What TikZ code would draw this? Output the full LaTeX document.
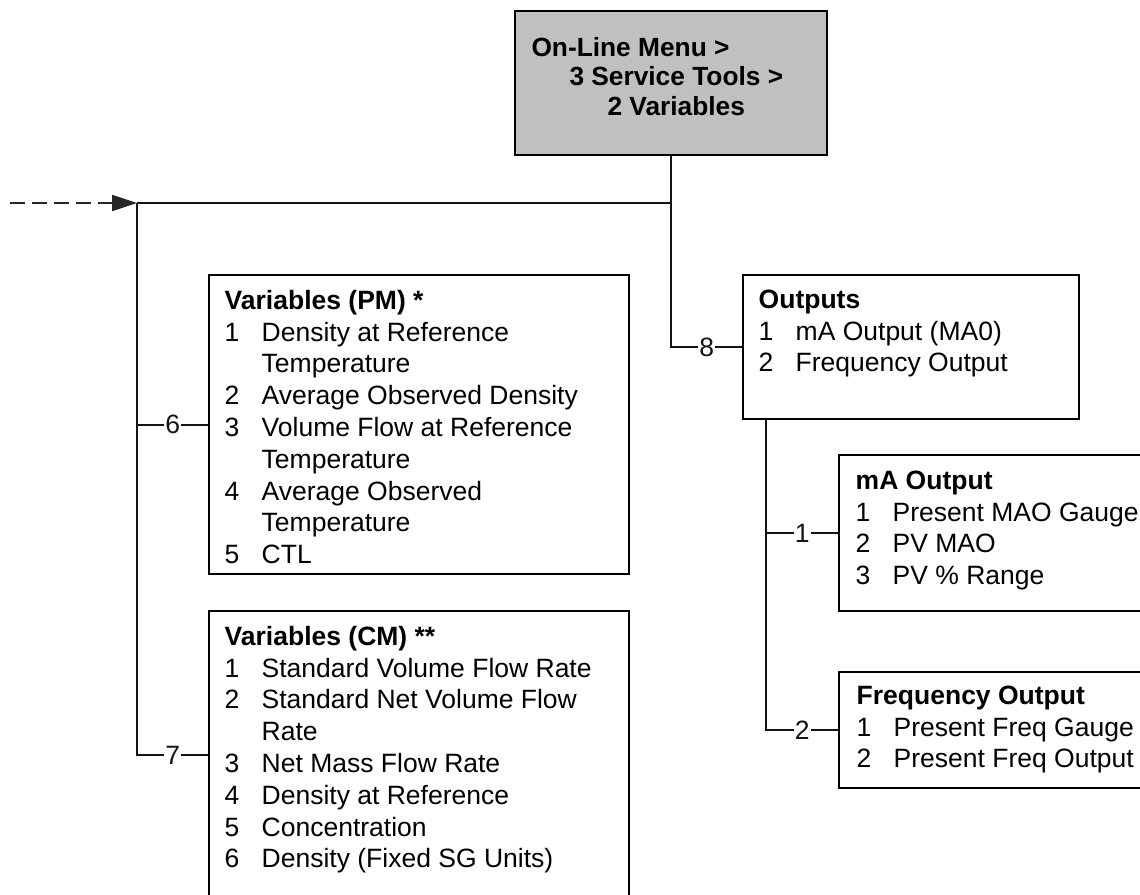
\documentclass[tikz,border=0pt]{standalone}
\usepackage{fontspec}
\setmainfont{Liberation Sans}
\usetikzlibrary{
  arrows.meta,
  positioning,
  calc,
}
\definecolor{menugray}{RGB}{192,192,192}
\definecolor{linecol}{RGB}{20,20,20}
\newcommand{\listfont}{\fontsize{13.25pt}{15.9pt}\selectfont}
\newcommand{\itm}[2]{\makebox[18.5pt][l]{#1}#2}
\newcommand{\cnt}[1]{\hspace*{18.5pt}#1}
\tikzset{
  menubox/.style={
    rectangle, draw=black, fill=menugray, line width=0.9pt, inner sep=0pt
  },
  listbox/.style={
    rectangle, draw=black, line width=0.7pt, inner sep=0pt
  },
  listtext/.style={anchor=base west, inner sep=0pt, font=\listfont},
  branch/.style={line width=1pt, linecol},
  numlabel/.style={fill=white, inner sep=0.6pt, font=\listfont},
  feedline/.style={
    line width=0.9pt, black!85, dash pattern=on 7.5pt off 3.5pt,
    -{Triangle[length=12.5pt,width=8pt]}
  },
}

\begin{document}
\begin{tikzpicture}[x=0.5pt, y=-0.5pt]

  \useasboundingbox (0,0) rectangle (1140,894);
  \clip (0,0) rectangle (1140,894);

  % ── Menu path ──
  \node[menubox, minimum width=156pt, minimum height=72pt] (menu) at (671,83) {};
  \node[listtext] (menutxt) at ([shift={(8.5pt,-23pt)}]menu.north west)
    {\parbox[t]{150pt}{\fontsize{13.15pt}{14.75pt}\selectfont\bfseries
      On-Line Menu >\\
      \hspace*{19pt}3 Service Tools >\\
      \hspace*{38pt}2 Variables}};

  % ── Level 1 boxes ──
  \node[listbox, minimum width=210pt, minimum height=149.5pt] (pm)   at (419,424.5) {};
  \node[listbox, minimum width=210pt, minimum height=144pt]   (cm)   at (419,755)   {};
  \node[listbox, minimum width=168pt, minimum height=72pt]    (outs) at (911,347)   {};

  % ── Level 2 boxes ──
  \node[listbox, minimum width=165.5pt, minimum height=78pt]  (mao)  at (1004.5,533) {};
  \node[listbox, minimum width=165.5pt, minimum height=58pt]  (freq) at (1004.5,730) {};

  % ── Box texts ──
  \node[listtext] (pmtxt) at ([shift={(8pt,-17.5pt)}]pm.north west)
    {\parbox[t]{200pt}{\textbf{Variables (PM) *}\\
      \itm{1}{Density at Reference}\\
      \cnt{Temperature}\\
      \itm{2}{Average Observed Density}\\
      \itm{3}{Volume Flow at Reference}\\
      \cnt{Temperature}\\
      \itm{4}{Average Observed}\\
      \cnt{Temperature}\\
      \itm{5}{CTL}}};
  \node[listtext] (cmtxt) at ([shift={(8pt,-17.5pt)}]cm.north west)
    {\parbox[t]{200pt}{\textbf{Variables (CM) **}\\
      \itm{1}{Standard Volume Flow Rate}\\
      \itm{2}{Standard Net Volume Flow}\\
      \cnt{Rate}\\
      \itm{3}{Net Mass Flow Rate}\\
      \itm{4}{Density at Reference}\\
      \itm{5}{Concentration}\\
      \itm{6}{Density (Fixed SG Units)}}};
  \node[listtext] (outstxt) at ([shift={(8pt,-17pt)}]outs.north west)
    {\parbox[t]{160pt}{\textbf{Outputs}\\
      \itm{1}{mA Output (MA0)}\\
      \itm{2}{Frequency Output}}};
  \node[listtext] (maotxt) at ([shift={(8.5pt,-17.5pt)}]mao.north west)
    {\parbox[t]{160pt}{\textbf{mA Output}\\
      \itm{1}{Present MAO Gauge}\\
      \itm{2}{PV MAO}\\
      \itm{3}{PV \% Range}}};
  \node[listtext] (freqtxt) at ([shift={(9pt,-16.5pt)}]freq.north west)
    {\parbox[t]{160pt}{\textbf{Frequency Output}\\
      \itm{1}{Present Freq Gauge}\\
      \itm{2}{Present Freq Output}}};

  % ── Junctions ──
  \coordinate (feed)  at (10,203);
  \coordinate (jleft) at (137,203);
  \coordinate (jtop)  at (menu.south |- jleft);
  \coordinate (osub)  at ([xshift=12pt]outs.south west);

  % ── Incoming path ──
  \draw[feedline] (feed) -- (jleft);
  \draw[branch] (jleft) -- (jtop);

  % ── Trunk to Outputs ──
  \draw[branch] (menu.south) -- (menu.south |- outs.west)
    -- node[numlabel] {8} (outs.west);

  % ── Left trunk ──
  \draw[branch] (jleft) -- (jleft |- pm.west)
    -- node[numlabel] {6} (pm.west);
  \draw[branch] (jleft |- pm.west) -- (jleft |- cm.west)
    -- node[numlabel] {7} (cm.west);

  % ── Outputs sub-trunk ──
  \draw[branch] (osub) -- (osub |- mao.west)
    -- node[numlabel] {1} (mao.west);
  \draw[branch] (osub |- mao.west) -- (osub |- freq.west)
    -- node[numlabel] {2} (freq.west);

\end{tikzpicture}
\end{document}
